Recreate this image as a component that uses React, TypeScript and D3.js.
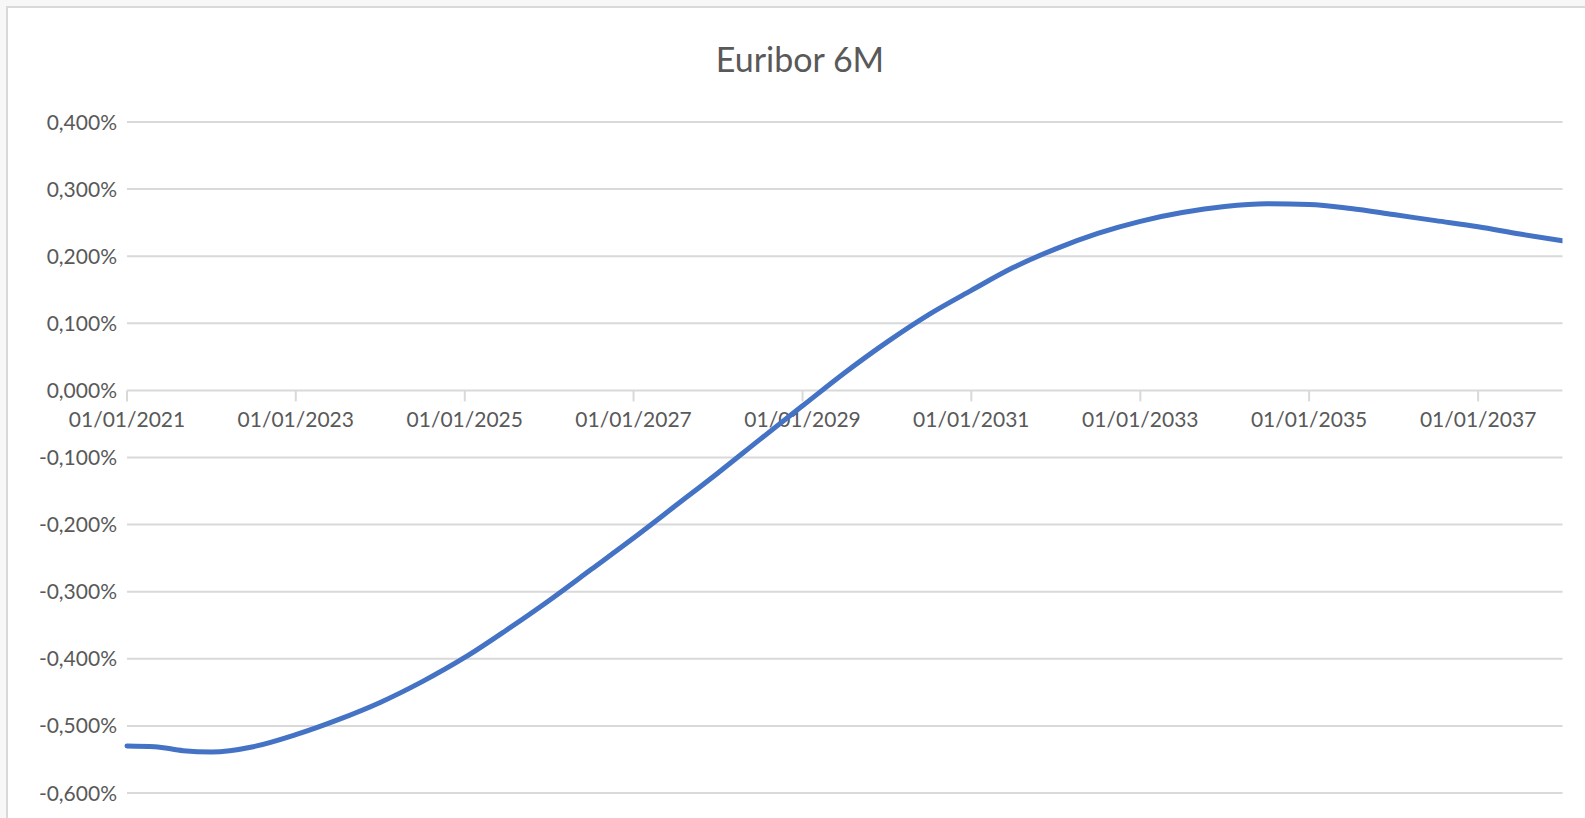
import React from "react"
import { scaleTime, scaleLinear, line, curveMonotoneX, timeFormat, timeParse } from "d3"

/** Euribor 6M forward curve, values in % */
const dates = [
	"2021-01-01", "2021-05-01", "2021-09-01", "2022-01-01", "2022-07-01",
	"2023-01-01", "2023-07-01", "2024-01-01", "2024-07-01", "2025-01-01",
	"2025-07-01", "2026-01-01", "2026-07-01", "2027-01-01", "2027-07-01",
	"2028-01-01", "2028-07-01", "2029-01-01", "2029-07-01", "2030-01-01",
	"2030-07-01", "2031-01-01", "2031-07-01", "2032-01-01", "2032-07-01",
	"2033-01-01", "2033-07-01", "2034-01-01", "2034-07-01", "2035-01-01",
	"2035-07-01", "2036-01-01", "2036-07-01", "2037-01-01", "2037-07-01",
	"2038-01-01",
]
const rates = [
	-0.530, -0.531, -0.537, -0.539, -0.531,
	-0.513, -0.491, -0.465, -0.434, -0.398,
	-0.357, -0.313, -0.267, -0.220, -0.172,
	-0.123, -0.073, -0.023, 0.026, 0.072,
	0.113, 0.149, 0.183, 0.211, 0.234,
	0.252, 0.265, 0.274, 0.278, 0.277,
	0.271, 0.262, 0.253, 0.244, 0.233,
	0.223,
]
const xTickLabels = [
	"2021-01-01", "2023-01-01", "2025-01-01", "2027-01-01", "2029-01-01",
	"2031-01-01", "2033-01-01", "2035-01-01", "2037-01-01",
]
const yTicks = [-0.6, -0.5, -0.4, -0.3, -0.2, -0.1, 0, 0.1, 0.2, 0.3, 0.4]
const title = "Euribor 6M"

const parse = timeParse("%Y-%m-%d")
const fmtDate = timeFormat("%d/%m/%Y")
const fmtPct = (v: number) => {
	const s = (Math.abs(v) < 1e-9 ? 0 : v).toFixed(3).replace(".", ",")
	return s + "%"
}

export default function App() {
	const width = 1585
	const height = 818

	/** plot area */
	const left = 127
	const right = 1562.5
	const top = 122
	const bottom = 793

	const data = dates.map((d, i) => ({ date: parse(d) as Date, value: rates[i] }))

	const xScale = scaleTime()
		.domain([parse("2021-01-01") as Date, parse("2038-01-01") as Date])
		.range([left, right])

	const yScale = scaleLinear()
		.domain([-0.6, 0.4])
		.range([bottom, top])

	const linePath = line<{ date: Date; value: number }>()
		.x(d => xScale(d.date))
		.y(d => yScale(d.value))
		.curve(curveMonotoneX)(data)

	const font = "Lato, 'Open Sans', sans-serif"
	const textColor = "#595959"
	const gridColor = "#d9d9d9"
	const y0 = yScale(0)

	return (
		<svg
			width={width}
			height={height}
			style={{ position: "absolute", left: 0, top: 0, background: "#f7f7f7" }}
		>
			<defs>
				<clipPath id="plot-clip">
					<rect x={0} y={0} width={right} height={height} />
				</clipPath>
			</defs>
			{/* chart frame */}
			<rect x={7} y={7} width={width + 20} height={height + 20} fill="#ffffff" stroke={gridColor} strokeWidth={2} />

			<text x={800} y={72} textAnchor="middle" fontFamily={font} fontSize={34} fill={textColor}>
				{title}
			</text>

			{/* horizontal gridlines + y labels */}
			{yTicks.map(t => (
				<g key={t}>
					<line x1={left} x2={right} y1={yScale(t)} y2={yScale(t)} stroke={gridColor} strokeWidth={2} />
					<text
						x={117}
						y={yScale(t)}
						dy="0.36em"
						textAnchor="end"
						fontFamily={font}
						fontSize={21}
						fill={textColor}
					>
						{fmtPct(t)}
					</text>
				</g>
			))}

			{/* x axis ticks on the zero line */}
			{xTickLabels.map(d => {
				const x = xScale(parse(d) as Date)
				return (
					<g key={d}>
						<line x1={x} x2={x} y1={y0} y2={y0 + 11} stroke={gridColor} strokeWidth={2} />
						<text x={x} y={427} textAnchor="middle" fontFamily={font} fontSize={21} fill={textColor}>
							{fmtDate(parse(d) as Date)}
						</text>
					</g>
				)
			})}

			<g clipPath="url(#plot-clip)">
				{linePath && (
					<path d={linePath} fill="none" stroke="#4472C4" strokeWidth={5} strokeLinecap="round" strokeLinejoin="round" />
				)}
			</g>
		</svg>
	)
}
